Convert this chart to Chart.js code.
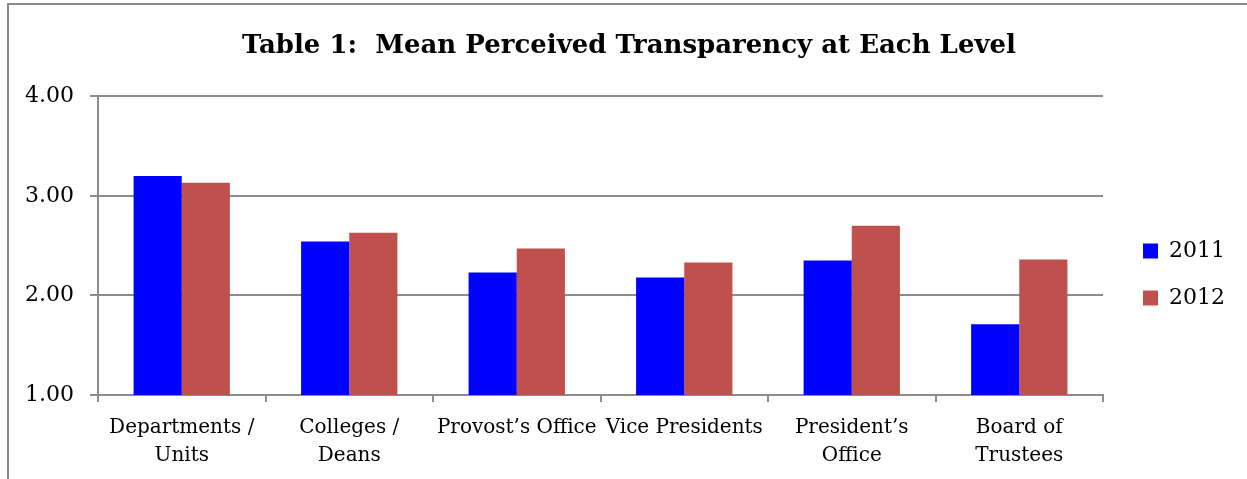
<!DOCTYPE html>
<html>
<head>
<meta charset="utf-8">
<script src="https://cdn.jsdelivr.net/npm/chart.js@4/dist/chart.umd.min.js"></script>
<style>
  html, body { margin: 0; padding: 0; background: #fff; overflow: hidden; }
  #frame { position: absolute; left: 7px; top: 3px; width: 1400px; height: 600px;
           border-left: 2px solid #8a8a8a; border-top: 2px solid #8a8a8a; }
  #wrap { position: absolute; left: 0; top: 0; width: 1247px; height: 479px; }
</style>
</head>
<body>
<div id="frame"></div>
<div id="wrap"><canvas id="chart"></canvas></div>
<script>
const categories = [
  ["Departments /", "Units"],
  ["Colleges /", "Deans"],
  "Provost\u2019s Office",
  "Vice Presidents",
  ["President\u2019s", "Office"],
  ["Board of", "Trustees"]
]
const values2011 = [3.20, 2.54, 2.23, 2.18, 2.35, 1.71]
const values2012 = [3.13, 2.63, 2.47, 2.33, 2.70, 2.36]
const yTicks = [1, 2, 3, 4]

const serif = "'DejaVu Serif', 'Liberation Serif', serif"

// nudge title / legend to where the original puts them
const nudge = {
  id: "nudge",
  afterLayout(chart) {
    const t = chart.titleBlock
    t.left += 19; t.right += 19
    const l = chart.legend
    l.left += 15; l.right += 15
    l.top += 29; l.bottom += 29
  }
}

new Chart(document.getElementById("chart"), {
  type: "bar",
  data: {
    labels: categories,
    datasets: [
      { label: "2011", data: values2011, backgroundColor: "#0000ff", borderWidth: 0 },
      { label: "2012", data: values2012, backgroundColor: "#c0504d", borderWidth: 0 }
    ]
  },
  options: {
    responsive: true,
    maintainAspectRatio: false,
    animation: false,
    layout: { padding: { left: 0, right: 27, top: 0, bottom: 0 } },
    datasets: { bar: { categoryPercentage: 0.575, barPercentage: 1 } },
    plugins: {
      title: {
        display: true,
        text: "Table 1:  Mean Perceived Transparency at Each Level",
        color: "#000",
        font: { family: serif, size: 26, weight: "bold", lineHeight: 1.2 },
        padding: { top: 31, bottom: 34 }
      },
      legend: {
        position: "right",
        fullSize: false,
        labels: {
          color: "#000",
          font: { family: serif, size: 22 },
          boxWidth: 15,
          boxHeight: 15,
          padding: 25
        }
      },
      tooltip: { enabled: false }
    },
    scales: {
      x: {
        afterFit: s => { s.height = 84 },
        grid: { offset: true, drawOnChartArea: false, drawTicks: true, tickLength: 7, color: "#8c8c8c", lineWidth: 2 },
        border: { color: "#8c8c8c", width: 2 },
        ticks: { color: "#000", font: { family: serif, size: 20, lineHeight: 1.4 }, padding: 12, maxRotation: 0, autoSkip: false }
      },
      y: {
        min: 1,
        max: 4,
        afterFit: s => { s.width = 98 },
        afterBuildTicks: s => { s.ticks = yTicks.map(v => ({ value: v })) },
        grid: { color: "#8c8c8c", lineWidth: 2, tickLength: 8 },
        border: { color: "#8c8c8c", width: 2 },
        ticks: { color: "#000", font: { family: serif, size: 22 }, padding: 16, callback: v => v.toFixed(2) }
      }
    }
  },
  plugins: [nudge]
})
</script>
</body>
</html>
